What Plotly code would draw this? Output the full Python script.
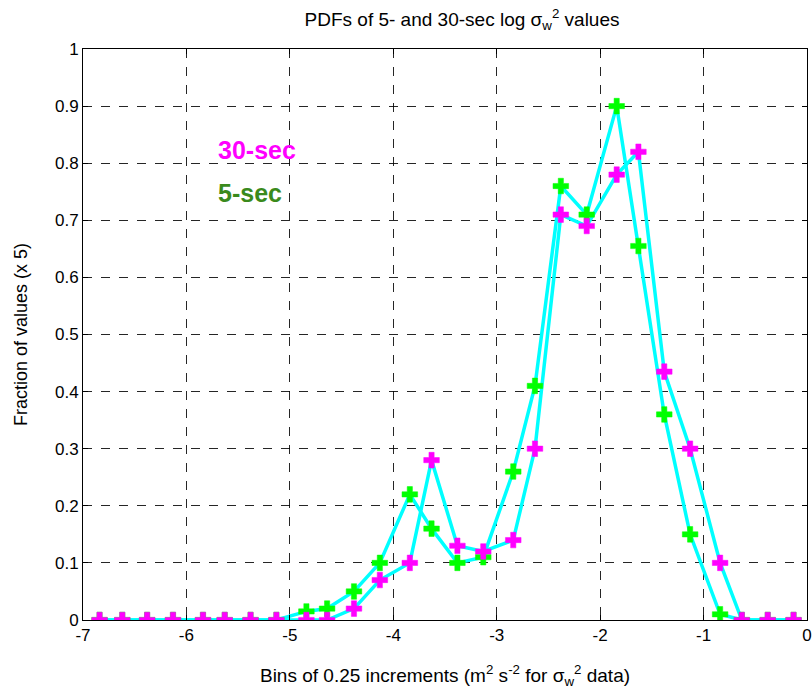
import plotly.graph_objects as go

# Bin centres (log sigma_w^2, 0.25 increments)
bins = [-6.84, -6.62, -6.38, -6.13, -5.84, -5.63, -5.38, -5.13,
        -4.84, -4.64, -4.38, -4.13, -3.84, -3.63, -3.38, -3.13,
        -2.84, -2.63, -2.38, -2.13, -1.84, -1.63, -1.38, -1.13,
        -0.84, -0.63, -0.38, -0.13]

# 5-sec PDF (green markers)
pdf_5sec = [0, 0, 0, 0, 0, 0, 0, 0,
            0.015, 0.02, 0.05, 0.10, 0.22, 0.16, 0.10, 0.11,
            0.26, 0.41, 0.76, 0.71, 0.90, 0.655, 0.36, 0.15,
            0.01, 0, 0, 0]

# 30-sec PDF (magenta markers)
pdf_30sec = [0, 0, 0, 0, 0, 0, 0, 0,
             0, 0, 0.02, 0.07, 0.10, 0.28, 0.13, 0.12,
             0.14, 0.30, 0.71, 0.69, 0.78, 0.82, 0.435, 0.30,
             0.10, 0, 0, 0]

x_ticks = [-7, -6, -5, -4, -3, -2, -1, 0]
y_ticks = [0, 0.1, 0.2, 0.3, 0.4, 0.5, 0.6, 0.7, 0.8, 0.9, 1]

CYAN = "#00FFFF"
GREEN = "#00FF00"
MAGENTA = "#FF00FF"
FONT = "Liberation Sans, Arial, Helvetica, sans-serif"

fig = go.Figure()
for ys in (pdf_5sec, pdf_30sec):
    fig.add_trace(go.Scatter(x=bins, y=ys, mode="lines",
                             line=dict(color=CYAN, width=3.5),
                             showlegend=False, hoverinfo="skip"))
for ys, col in ((pdf_5sec, GREEN), (pdf_30sec, MAGENTA)):
    fig.add_trace(go.Scatter(x=bins, y=ys, mode="markers",
                             marker=dict(symbol="cross", size=13, color=col,
                                         line=dict(color=col, width=0.5)),
                             showlegend=False))

fig.add_annotation(x=-5.715, y=0.824, text="<b>30-sec</b>", showarrow=False,
                   xanchor="left", yanchor="middle",
                   font=dict(family=FONT, size=25, color=MAGENTA))
fig.add_annotation(x=-5.715, y=0.748, text="<b>5-sec</b>", showarrow=False,
                   xanchor="left", yanchor="middle",
                   font=dict(family=FONT, size=25, color="#3A8A1C"))

axis_common = dict(showline=True, linecolor="black", linewidth=1, mirror="ticks",
                   ticks="inside", ticklen=5, tickcolor="black",
                   showgrid=True, gridcolor="rgba(0,0,0,0.85)", griddash="dash",
                   gridwidth=1, zeroline=False, automargin=False,
                   tickfont=dict(family=FONT, size=17, color="black"))

fig.update_xaxes(range=[-7, 0], tickvals=x_ticks,
                 ticktext=[str(v) for v in x_ticks],
                 title=dict(text="Bins of 0.25 increments (m<sup>2</sup> s<sup>-2</sup> for σ<sub>w</sub><sup>2</sup> data)",
                            font=dict(family=FONT, size=19, color="black"), standoff=24),
                 **axis_common)
fig.update_yaxes(range=[0, 1], tickvals=y_ticks,
                 ticktext=["0", "0.1", "0.2", "0.3", "0.4", "0.5", "0.6", "0.7", "0.8", "0.9", "1"],
                 title=dict(text="Fraction of values (x 5)",
                            font=dict(family=FONT, size=18, color="black"), standoff=22),
                 **axis_common)

fig.update_layout(
    width=812, height=694,
    margin=dict(l=83, r=5, t=49, b=74),
    paper_bgcolor="white", plot_bgcolor="white",
    title=dict(text="PDFs of 5- and 30-sec log σ<sub>w</sub><sup>2</sup> values",
               x=0.569, xanchor="center", xref="container", y=0.972, yanchor="middle",
               font=dict(family=FONT, size=19, color="black")),
)

fig.write_html("out.html", config={"displayModeBar": False},
               post_script="document.body.style.margin='0';")
